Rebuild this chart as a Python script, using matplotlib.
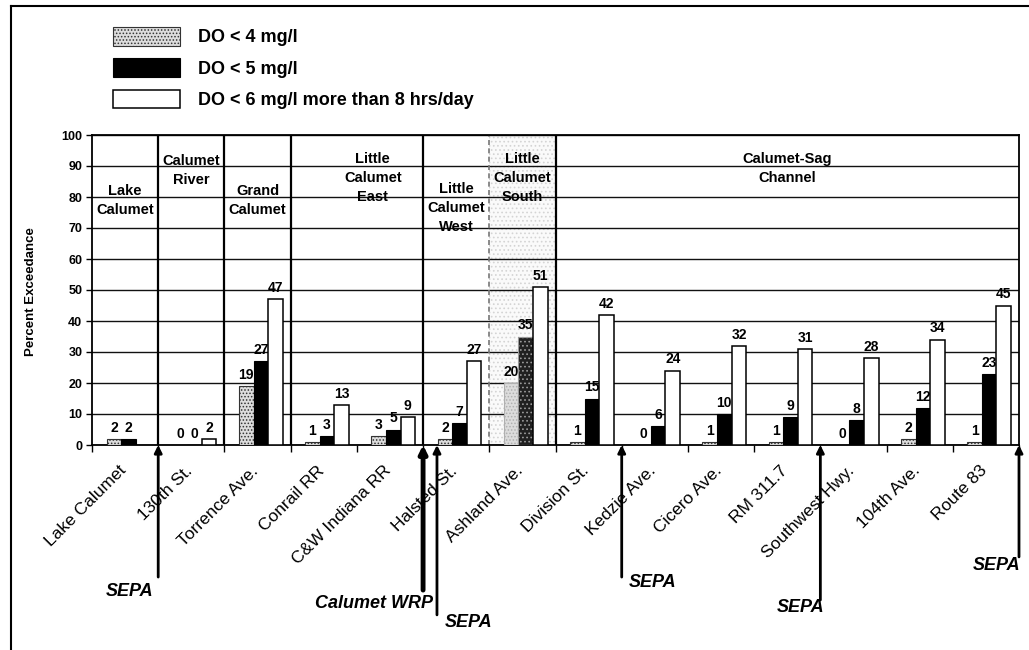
import numpy as np
import matplotlib.pyplot as plt
import matplotlib.transforms as mtrans
from matplotlib.lines import Line2D

plt.rcParams['font.family'] = ['Liberation Sans', 'DejaVu Sans']
plt.rcParams['hatch.linewidth'] = 0.7

#-- Sampling stations along the waterways
sites = ['Lake Calumet', '130th St.', 'Torrence Ave.', 'Conrail RR', 'C&W Indiana RR',
         'Halsted St.', 'Ashland Ave.', 'Division St.', 'Kedzie Ave.', 'Cicero Ave.',
         'RM 311.7', 'Southwest Hwy.', '104th Ave.', 'Route 83']

#-- Percent of time DO is below each threshold
do4 = [2, 0, 19, 1, 3, 2, 20, 1, 0, 1, 1, 0, 2, 1]
do5 = [2, 0, 27, 3, 5, 7, 35, 15, 6, 10, 9, 8, 12, 23]
do6 = [np.nan, 2, 47, 13, 9, 27, 51, 42, 24, 32, 31, 28, 34, 45]
series_names = ['DO < 4 mg/l', 'DO < 5 mg/l', 'DO < 6 mg/l more than 8 hrs/day']

#-- Reaches: first station, last station, name
reach_first = [0, 1, 2, 3, 5, 6, 7]
reach_last = [0, 1, 2, 4, 5, 6, 13]
reach_names = ['Lake\nCalumet', 'Calumet\nRiver', 'Grand\nCalumet', 'Little\nCalumet\nEast',
               'Little\nCalumet\nWest', 'Little\nCalumet\nSouth', 'Calumet-Sag\nChannel']

#-- Outfalls marked below the axis
outfall_names = ['SEPA', 'Calumet WRP', 'SEPA', 'SEPA', 'SEPA', 'SEPA']
outfall_x = [0.5, 4.5, 4.71, 7.5, 10.5, 13.5]

fig = plt.figure(figsize=(10.29, 6.5), dpi=100)
ax = fig.add_axes([92/1029, 1 - 445/650, 927/1029, 310/650])

x = np.arange(len(sites))
w = 0.22
sh = 0.05
b4 = ax.bar(x + sh - w, do4, w, facecolor='#dcdcdc', edgecolor='#333333',
            hatch='.....', lw=0.8, zorder=3)
b5 = ax.bar(x + sh, do5, w, facecolor='black', edgecolor='black', lw=0.8, zorder=3)
b6 = ax.bar(x + sh + w, do6, w, facecolor='white', edgecolor='black', lw=1.1, zorder=3)

# Ashland Ave. bars are speckled
b4[6].set_edgecolor('#b0b0b0')
b5[6].set_facecolor('#202020')
b5[6].set_edgecolor('#9a9a9a')
b5[6].set_hatch('....')

for bars, vals in [(b4, do4), (b5, do5), (b6, do6)]:
    for bar, v in zip(bars, vals):
        if np.isnan(v):
            continue
        ax.annotate(f'{v:g}', (bar.get_x() + bar.get_width() / 2, v),
                    xytext=(0, 3), textcoords='offset points',
                    ha='center', va='bottom', fontsize=10, fontweight='bold', zorder=5)

#-- Little Calumet South shaded reach
ax.axvspan(5.5, 6.5, facecolor='#fafafa', edgecolor='#d4d4d4', hatch='....', lw=0, zorder=0.1)

ax.set_xlim(-0.5, 13.5)
ax.set_ylim(0, 100)
ax.set_yticks(np.arange(0, 101, 10))
ax.yaxis.grid(True, color='#111111', lw=1)
ax.set_axisbelow(True)

#-- Reach dividers and names
for f, name in zip(reach_first, reach_names):
    if f > 0:
        if name.endswith('South'):
            ax.axvline(f - 0.5, color='#777777', lw=1.2, ls=(0, (3, 2)), zorder=2)
        else:
            ax.axvline(f - 0.5, color='black', lw=1.6, zorder=2)
title_y = [79, 88.7, 79, 86, 76.5, 86, 89.3]
title_dx = [0, 0, 0, 0.24, 0, 0, 0]
for f, l, name, ty, dx in zip(reach_first, reach_last, reach_names, title_y, title_dx):
    ax.text((f + l) / 2 + dx, ty, name, ha='center', va='center', fontsize=10.5,
            fontweight='bold', linespacing=1.45, zorder=4)

ax.set_xticks(x, sites, rotation=45, ha='right', rotation_mode='anchor', fontsize=12.5)
ax.tick_params(axis='x', which='major', length=0, pad=13)
shift = mtrans.ScaledTranslation(-7/100, 0, fig.dpi_scale_trans)
for lbl in ax.get_xticklabels():
    lbl.set_transform(lbl.get_transform() + shift)
ax.set_xticks(np.arange(-0.5, 14, 1), minor=True)
ax.tick_params(axis='x', which='minor', length=5, width=1, direction='out')
ax.tick_params(axis='y', length=4, width=1, labelsize=9, pad=3)
for lbl in ax.get_yticklabels():
    lbl.set_fontweight('bold')
for s in ax.spines.values():
    s.set_linewidth(1.3)
    s.set_color('black')

fig.text(31/1029, 1 - 292/650, 'Percent Exceedance', rotation=90, ha='center',
         va='center', fontsize=9.5, fontweight='bold')

#-- Outfall arrows
tail_y = [-42.6, -46.8, -54.8, -42.6, -50, -36.1]
arrow_lw = [2, 3.5, 2, 2, 2, 2]
lab_pos = [(0.07, -47.4, 'center'), (4.65, -51, 'right'), (4.83, -57.4, 'left'),
           (7.6, -44.2, 'left'), (10.56, -52.3, 'right'), (13.52, -39, 'right')]
for name, ox, ty, lw, (lx, ly, ha) in zip(outfall_names, outfall_x, tail_y, arrow_lw, lab_pos):
    ax.annotate('', xy=(ox, 0), xytext=(ox, ty), annotation_clip=False,
                arrowprops=dict(arrowstyle='-|>', lw=lw, color='black',
                                mutation_scale=11, shrinkA=0, shrinkB=0))
    ax.text(lx, ly, name, ha=ha, va='center', fontsize=13, fontweight='bold',
            fontstyle='italic', clip_on=False)

#-- Legend
fig.legend(handles=[b4, b5, b6], labels=series_names, loc='upper left',
           bbox_to_anchor=(113/1029, 1 - 27/650), frameon=False,
           prop={'size': 13, 'weight': 'bold'}, handlelength=3.7, handleheight=1.2,
           labelspacing=0.67, handletextpad=1.0, borderpad=0, borderaxespad=0)

#-- Page frame
fig.add_artist(Line2D([11/1029, 11/1029], [0, 1 - 6/650], color='black', lw=1.5))
fig.add_artist(Line2D([11/1029, 1], [1 - 6/650, 1 - 6/650], color='black', lw=1.5))

fig.savefig('out.png', dpi=100)
